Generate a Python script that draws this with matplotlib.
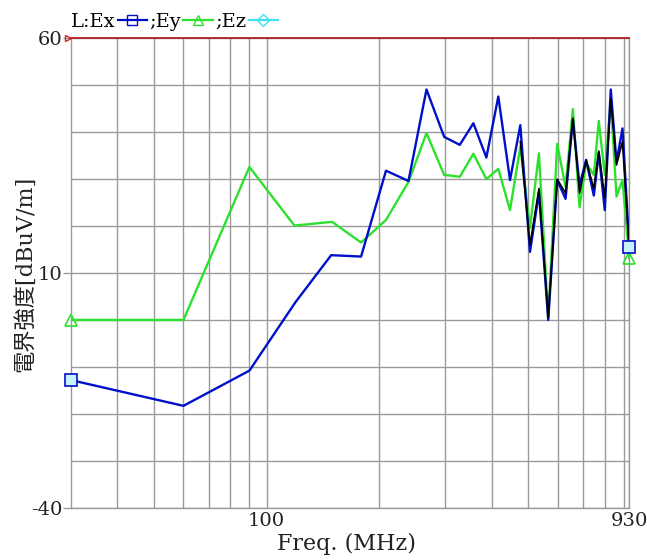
import matplotlib
matplotlib.use("Agg")
import matplotlib.pyplot as plt
from matplotlib.lines import Line2D

# ---- data ----
ex_freq = [30, 60, 90, 119.5, 148.8, 178.8, 208.4, 239.3, 267.3, 298, 328, 356.6,
           386.3, 415.7, 446.7, 475.9, 505, 533.6, 565, 597, 628.5, 657.4, 684.9,
           713.3, 747.7, 770.9, 799.8, 829.8, 859.6, 891.9, 930]
ex_vals = [-12.8, -18.3, -10.8, 3.8, 13.8, 13.5, 31.8, 29.6, 49.1, 39.0, 37.3, 41.9,
           34.6, 47.6, 29.8, 41.5, 14.5, 27.1, 0.0, 29.8, 25.8, 42.7, 28.7,
           34.1, 26.5, 35.6, 23.4, 49.1, 33.7, 40.8, 15.5]

ey_freq = [30, 60, 90, 118.7, 149.6, 178.8, 208.4, 239.3, 267.3, 298, 328, 356.6,
           386.3, 415.7, 446.7, 475.9, 505, 533.6, 565, 597, 628.5, 657.4, 684.9,
           713.3, 747.7, 770.9, 799.8, 829.8, 859.6, 891.9, 930]
ey_vals = [0.0, 0.0, 32.6, 20.1, 20.9, 16.5, 21.3, 29.4, 39.8, 30.9, 30.5, 35.4,
           30.0, 32.2, 23.4, 36.9, 19.6, 35.5, 0.4, 37.5, 28.3, 44.9, 24.0,
           33.4, 30.9, 42.4, 30.9, 46.9, 26.3, 29.8, 13.2]

overlap_freq = [475.9, 505, 533.6, 565, 597, 628.5, 657.4, 684.9, 713.3, 747.7,
                770.9, 799.8, 829.8, 859.6, 891.9, 930]
overlap_vals = [38.0, 16.0, 28.0, 0.5, 30.0, 27.0, 43.0, 27.0, 34.0, 28.0,
                36.0, 26.0, 47.0, 33.0, 38.0, 15.0]

y_major = [-40, 10, 60]
y_minor = [-30, -20, -10, 0, 20, 30, 40, 50]
x_major = [100, 930]
x_minor = [40, 50, 60, 70, 80, 90, 200, 300, 400, 500, 600, 700, 800, 900]

BLUE = "#0010c8"
GREEN = "#2ee02e"
CYAN = "#40e0f0"
GRID = "#9a9a9a"
TXT = "#222222"

fig = plt.figure(figsize=(6.47, 5.60), dpi=100)
ax = fig.add_axes([70.7 / 647, 1 - 507.7 / 560, 558.6 / 647, 469.4 / 560])

ax.set_xscale("log")
ax.set_xlim(30, 930)
ax.set_ylim(-40, 60)

fam = ["DejaVu Serif", "Noto Sans CJK JP"]
tick_font = dict(family=fam, size=14)

ax.set_xticks(x_major)
ax.set_xticklabels([str(v) for v in x_major], **tick_font)
ax.set_xticks(x_minor, minor=True)
ax.set_xticklabels([], minor=True)
ax.set_yticks(y_major)
ax.set_yticklabels([str(v) for v in y_major], **tick_font)
ax.set_yticks(y_minor, minor=True)

ax.tick_params(axis="x", which="both", length=0, pad=3, colors=TXT)
ax.tick_params(axis="y", which="major", length=6, width=1, color=GRID, pad=0,
               labelcolor=TXT)
ax.tick_params(axis="y", which="minor", length=0)

ax.grid(True, which="both", color=GRID, linewidth=1.0)
ax.set_axisbelow(True)
for s in ["left", "right", "bottom"]:
    ax.spines[s].set_color(GRID)
    ax.spines[s].set_linewidth(1.0)
ax.spines["top"].set_color("#b01010")
ax.spines["top"].set_linewidth(1.2)

ax.plot(ey_freq, ey_vals, color=GREEN, lw=1.7, zorder=3)
ax.plot(ex_freq, ex_vals, color=BLUE, lw=1.7, zorder=4)
ax.plot(overlap_freq, overlap_vals, color="black", lw=1.2, zorder=5)

# end markers
ax.plot([ey_freq[0], ey_freq[-1]], [ey_vals[0], ey_vals[-1]], ls="none", marker="^",
        ms=9, mfc="none", mec=GREEN, mew=1.2, clip_on=False, zorder=6)
ax.plot([ex_freq[0], ex_freq[-1]], [ex_vals[0], ex_vals[-1]], ls="none", marker="s",
        ms=9, mfc="#c8f0ff", mec=BLUE, mew=1.2, clip_on=False, zorder=6)

# red marker at top-left of the axis
ax.plot([29.5], [60], ls="none", marker=">", ms=5, mfc="none", mec="#d02020",
        mew=1, clip_on=False, zorder=7)

# legend: text first, then handle
handles = [
    Line2D([], [], color=BLUE, lw=1.6, marker="s", ms=7, mfc="none", mec=BLUE),
    Line2D([], [], color=GREEN, lw=1.6, marker="^", ms=7, mfc="none", mec=GREEN),
    Line2D([], [], color=CYAN, lw=1.6, marker="D", ms=6, mfc="none", mec=CYAN),
]
fig.legend(handles, ["L:Ex", ";Ey", ";Ez"], loc="center left",
           bbox_to_anchor=(71 / 647, 1 - 22 / 560), ncol=3, frameon=False,
           markerfirst=False, handlelength=1.5, handletextpad=0.1,
           columnspacing=0.15, borderpad=0, borderaxespad=0,
           prop={"family": fam, "size": 14})

fig.text(347 / 647, 1 - 544 / 560, "Freq. (MHz)", ha="center", va="center",
         fontsize=16, family=fam, color=TXT)
fig.text(25 / 647, 1 - 274 / 560, "電界強度[dBuV/m]", ha="center", va="center",
         rotation=90, fontsize=16, family=fam, color=TXT)

fig.savefig("out.png", dpi=100)
